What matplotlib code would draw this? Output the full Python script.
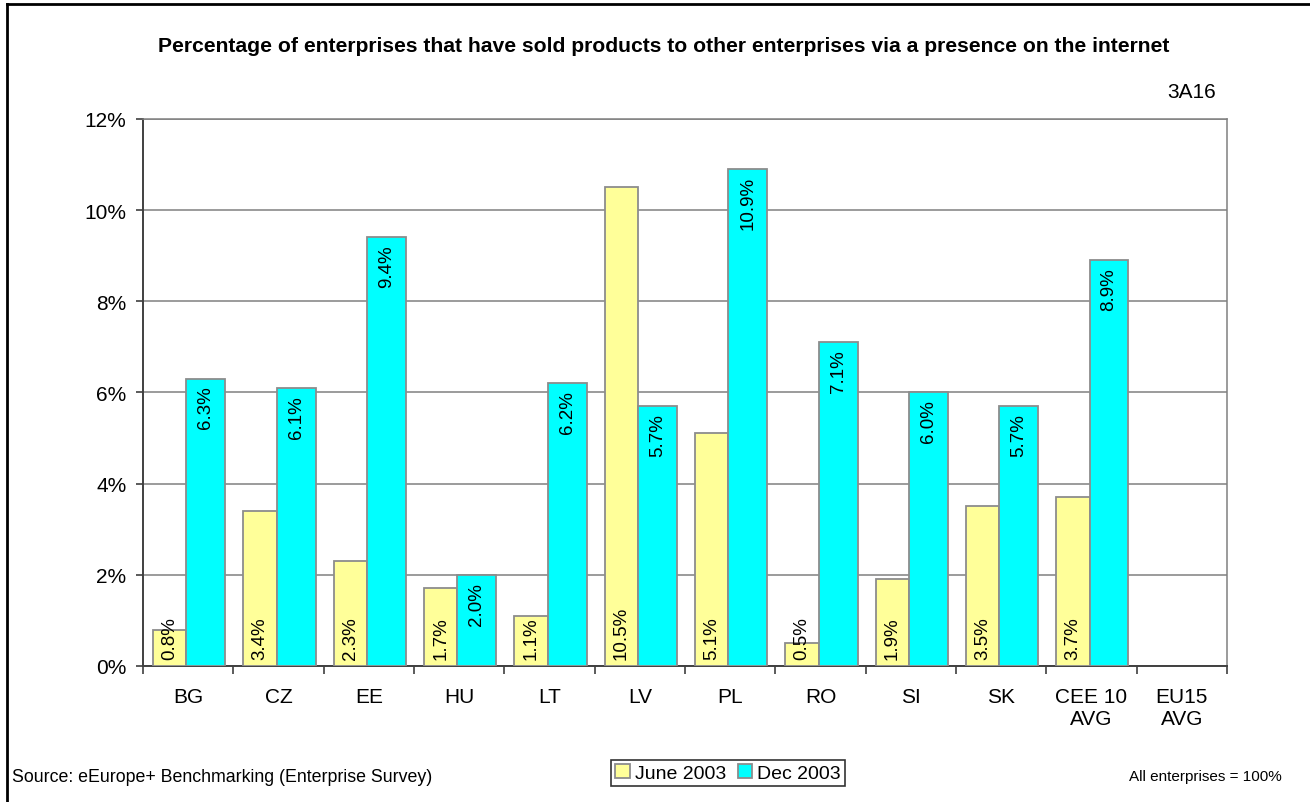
import numpy as np
import matplotlib
matplotlib.use('Agg')
import matplotlib.pyplot as plt
from matplotlib.lines import Line2D

plt.rcParams['font.family'] = ['Liberation Sans', 'DejaVu Sans']

# --- Data (percent of enterprises) ---
countries = ["BG", "CZ", "EE", "HU", "LT", "LV", "PL", "RO", "SI", "SK",
             "CEE 10\nAVG", "EU15\nAVG"]
june_2003 = [0.8, 3.4, 2.3, 1.7, 1.1, 10.5, 5.1, 0.5, 1.9, 3.5, 3.7, np.nan]
dec_2003 = [6.3, 6.1, 9.4, 2.0, 6.2, 5.7, 10.9, 7.1, 6.0, 5.7, 8.9, np.nan]
series_names = ["June 2003", "Dec 2003"]

c_june = '#FFFF99'
c_dec = '#00FFFF'
edge = '#8C8C8C'

fig = plt.figure(figsize=(13.1, 8.03), dpi=100)
ax = fig.add_axes([0.1092, 0.1694, 0.8274, 0.6812])

x = np.arange(len(countries))
w_june = 0.37
w_dec = 0.43
x_june = x - 0.02 - w_june / 2
x_dec = x - 0.02 + w_dec / 2

b1 = ax.bar(x_june, june_2003, width=w_june, color=c_june, edgecolor=edge,
            linewidth=1.3, label=series_names[0], zorder=3)
b2 = ax.bar(x_dec, dec_2003, width=w_dec, color=c_dec, edgecolor=edge,
            linewidth=1.3, label=series_names[1], zorder=3)

# value labels: June at the base, Dec just inside the top
for xi, v in zip(x_june, june_2003):
    if np.isnan(v):
        continue
    ax.annotate(f'{v:.1f}%', (xi, 0), xytext=(0, 5), textcoords='offset points',
                rotation=90, ha='center', va='bottom', fontsize=13.5, zorder=4)
for xi, v in zip(x_dec, dec_2003):
    if np.isnan(v):
        continue
    ax.annotate(f'{v:.1f}%', (xi, v), xytext=(0, -5), textcoords='offset points',
                rotation=90, ha='center', va='top', fontsize=13.5, zorder=4)

ax.set_xlim(-0.5, len(countries) - 0.5)
ax.set_ylim(0, 12)
ax.set_yticks(np.arange(0, 13, 2))
ax.set_yticklabels([f'{int(t)}%' for t in np.arange(0, 13, 2)], fontsize=15)
ax.yaxis.grid(True, color='#808080', linewidth=1.1, zorder=0)
ax.set_axisbelow(True)

ax.set_xticks(x)
ax.set_xticklabels(countries, fontsize=15, linespacing=1.2)
ax.tick_params(axis='x', length=0, pad=15)
ax.set_xticks(np.arange(-0.5, len(countries) + 0.5, 1), minor=True)
ax.tick_params(axis='x', which='minor', length=6, color='#404040', width=1.2)
ax.tick_params(axis='y', length=5, color='#404040', width=1.2, pad=7)

for side in ['left', 'bottom']:
    ax.spines[side].set_color('#404040')
    ax.spines[side].set_linewidth(1.4)
for side in ['right', 'top']:
    ax.spines[side].set_color('#808080')
    ax.spines[side].set_linewidth(1.1)

fig.text(664 / 1310, 1 - 47 / 803,
         'Percentage of enterprises that have sold products to other enterprises via a presence on the internet',
         ha='center', va='center', fontsize=15.2, fontweight='bold')
fig.text(1216 / 1310, 1 - 92 / 803, '3A16', ha='right', va='center', fontsize=15)
fig.text(12 / 1310, 1 - 778 / 803, 'Source: eEurope+ Benchmarking (Enterprise Survey)',
         ha='left', va='center', fontsize=12.8)
fig.text(1282 / 1310, 1 - 777 / 803, 'All enterprises = 100%',
         ha='right', va='center', fontsize=11)

leg = fig.legend(handles=[b1, b2], labels=series_names, loc='center',
                 bbox_to_anchor=(728 / 1310, 1 - 774 / 803), ncol=2, fontsize=14,
                 frameon=True, fancybox=False, edgecolor='black', handlelength=0.75,
                 handleheight=0.75, handletextpad=0.25, columnspacing=0.6,
                 borderpad=0.2, borderaxespad=0)
leg.get_frame().set_linewidth(1.2)

# outer frame
fig.add_artist(Line2D([7 / 1310, 7 / 1310], [0, 1 - 5 / 803], color='black',
                      linewidth=2, transform=fig.transFigure))
fig.add_artist(Line2D([7 / 1310, 1], [1 - 5 / 803, 1 - 5 / 803], color='black',
                      linewidth=2, transform=fig.transFigure))

fig.savefig('out.png', dpi=100)
